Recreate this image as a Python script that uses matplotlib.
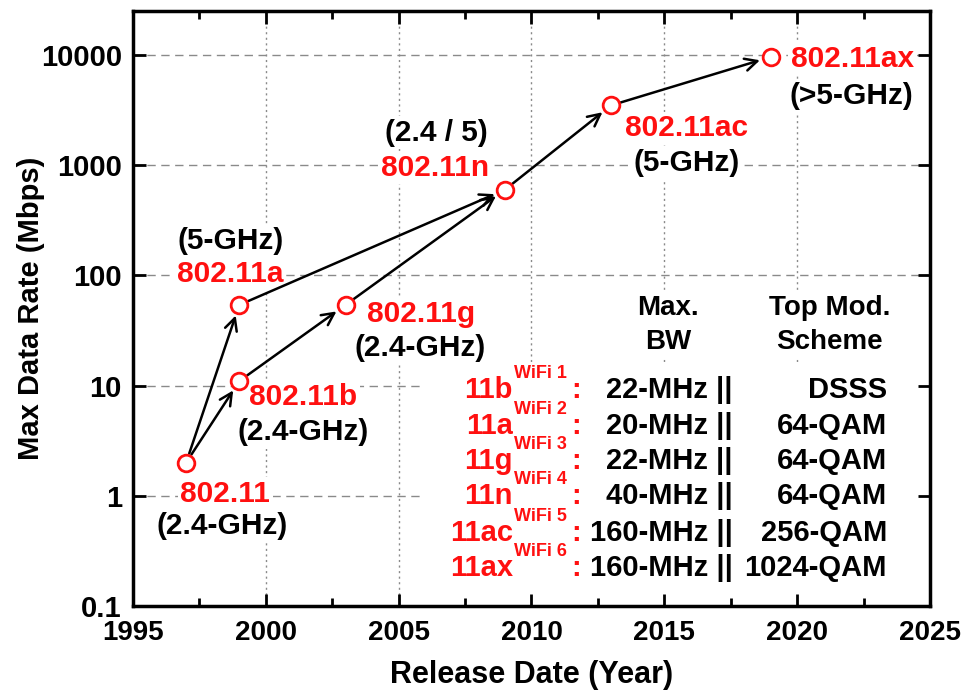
import matplotlib
matplotlib.use("Agg")
import matplotlib.pyplot as plt
from matplotlib.patches import Rectangle
from matplotlib.ticker import MultipleLocator, NullLocator

plt.rcParams['font.family'] = ['Liberation Sans', 'DejaVu Sans']
plt.rcParams['font.weight'] = 'bold'

# WiFi standards: release year and max data rate
years = [1997, 1999, 1999, 2003, 2009, 2013, 2019]
rates = [2, 11, 54, 54, 600, 3500, 9608]
names = ['802.11', '802.11b', '802.11a', '802.11g', '802.11n', '802.11ac', '802.11ax']
bands = ['(2.4-GHz)', '(2.4-GHz)', '(5-GHz)', '(2.4-GHz)', '(2.4 / 5)', '(5-GHz)', '(>5-GHz)']
# which standard evolved into which
links = [(0, 1), (0, 2), (1, 3), (2, 4), (3, 4), (4, 5), (5, 6)]

# label offsets in pixels (name, band)
name_off = [(39, -31), (64, -16), (-9, 31), (76, -9), (-70, 22), (75, -23), (82, -2)]
band_off = [(36, -63), (64, -51), (-9, 64), (75, -43), (-69, 57), (75, -58), (81, -39)]

# summary table
amend = ['11b', '11a', '11g', '11n', '11ac', '11ax']
gen = ['WiFi 1', 'WiFi 2', 'WiFi 3', 'WiFi 4', 'WiFi 5', 'WiFi 6']
max_bw = ['22-MHz', '20-MHz', '22-MHz', '40-MHz', '160-MHz', '160-MHz']
top_mod = ['DSSS', '64-QAM', '64-QAM', '64-QAM', '256-QAM', '1024-QAM']

xticks = [1995, 2000, 2005, 2010, 2015, 2020, 2025]
yticks = [0.1, 1, 10, 100, 1000, 10000]
ylabels = ['0.1', '1', '10', '100', '1000', '10000']

RED = '#ff1010'

fig = plt.figure(figsize=(9.61, 6.94), dpi=100)
ax = fig.add_axes([0.1384, 0.1268, 0.8293, 0.8573])
ax.set_yscale('log')
ax.set_xlim(1995, 2025)
ax.set_ylim(0.1, 10 ** 4.4)

# grid drawn by hand so the table backdrop can cover it but not the ticks
for x in xticks[1:-1]:
    ax.axvline(x, color='#8a8a8a', lw=1.0, ls=(0, (1.5, 2.5)), zorder=1)
for y in yticks[1:]:
    ax.axhline(y, color='#8a8a8a', lw=1.0, ls=(0, (6, 4)), zorder=1)

ax.set_xticks(xticks)
ax.set_yticks(yticks)
ax.set_yticklabels(ylabels)
ax.xaxis.set_minor_locator(MultipleLocator(2.5))
ax.yaxis.set_minor_locator(NullLocator())
ax.tick_params(which='both', direction='in', top=True, right=True, width=2)
ax.tick_params(which='major', length=9, pad=8)
ax.tick_params(which='minor', length=6)
ax.tick_params(axis='x', labelsize=20, pad=10)
ax.tick_params(axis='y', labelsize=21)
for s in ax.spines.values():
    s.set_linewidth(2.5)
ax.set_axisbelow(False)

ax.set_xlabel('Release Date (Year)', fontsize=22, fontweight='bold', labelpad=10)
ax.set_ylabel('Max Data Rate (Mbps)', fontsize=21, fontweight='bold', labelpad=-3)

# arrows between generations
for a, b in links:
    ax.annotate('', xy=(years[b], rates[b]), xytext=(years[a], rates[a]),
                arrowprops=dict(arrowstyle='->', lw=1.8, color='black',
                                shrinkA=7, shrinkB=8, mutation_scale=22),
                zorder=4)

ax.plot(years, rates, 'o', ms=12, mfc='white', mec=RED, mew=2, zorder=5, clip_on=False)

box = dict(fc='white', ec='none', pad=2)
for i in range(len(years)):
    ax.annotate(names[i], (years[i], rates[i]), xytext=name_off[i], textcoords='offset pixels',
                ha='center', va='center', color=RED, fontsize=21.5, fontweight='bold',
                bbox=box, zorder=3)
    ax.annotate(bands[i], (years[i], rates[i]), xytext=band_off[i], textcoords='offset pixels',
                ha='center', va='center', color='black', fontsize=21.5, fontweight='bold',
                bbox=box, zorder=3)

# table backdrop
ax.add_patch(Rectangle((0.364, 0.0), 0.636, 0.41, transform=ax.transAxes,
                       fc='white', ec='none', zorder=2))

tr = ax.transAxes
for txt, yy in [('Max.', 0.5008), ('BW', 0.4437)]:
    ax.text(0.6713, yy, txt, transform=tr, ha='center', va='center', fontsize=20,
            fontweight='bold', bbox=box, zorder=3)
for txt, yy in [('Top Mod.', 0.5008), ('Scheme', 0.4437)]:
    ax.text(0.8745, yy, txt, transform=tr, ha='center', va='center', fontsize=20,
            fontweight='bold', bbox=box, zorder=3)

row_y = [0.363, 0.3026, 0.2437, 0.1849, 0.1227, 0.0639]
for i in range(len(amend)):
    y = row_y[i]
    ax.text(0.4768, y, amend[i], transform=tr, ha='right', va='center', color=RED,
            fontsize=21, fontweight='bold', zorder=3)
    ax.text(0.4785, y + 0.028, gen[i], transform=tr, ha='left', va='center', color=RED,
            fontsize=13, fontweight='bold', zorder=3)
    ax.text(0.5565, y, ':', transform=tr, ha='center', va='center', color=RED,
            fontsize=21, fontweight='bold', zorder=3)
    ax.text(0.7528, y, max_bw[i] + ' ||', transform=tr, ha='right', va='center',
            fontsize=21, fontweight='bold', zorder=3)
    ax.text(0.946, y, top_mod[i], transform=tr, ha='right', va='center',
            fontsize=21, fontweight='bold', zorder=3)

fig.savefig('out.png', dpi=100)
